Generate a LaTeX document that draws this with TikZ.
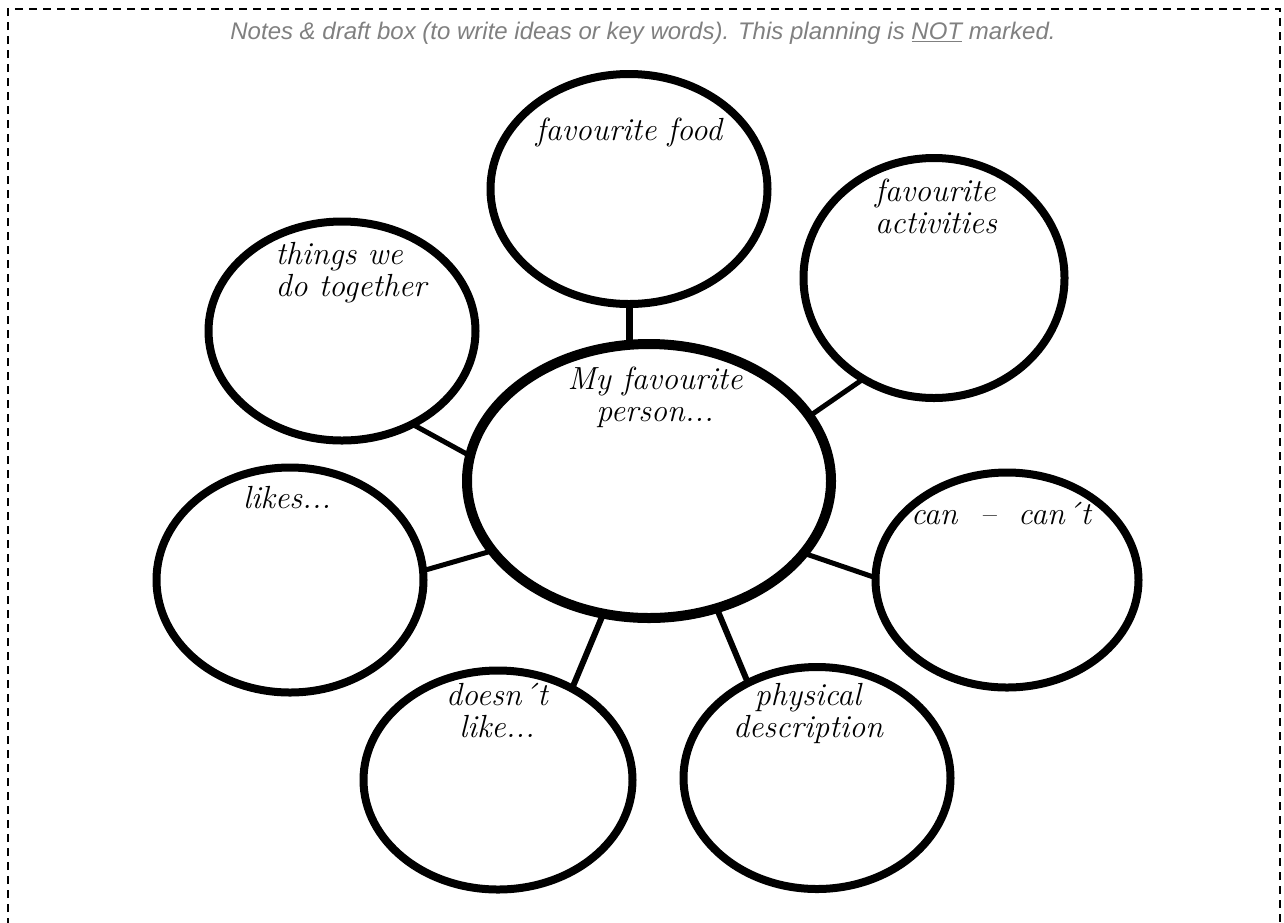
\documentclass[tikz,border=0pt]{standalone}
\usepackage{fontspec}
\newfontfamily\notefont{Liberation Sans}
\usetikzlibrary{shapes.geometric}
\begin{document}
\begin{tikzpicture}[x=1pt,y=-1pt,
  bubble/.style={ellipse, draw=black, fill=white, line width=8pt, inner sep=0pt, outer sep=0pt},
  link/.style={line width=5pt, draw=black},
  hand/.style={font=\fontsize{32}{32}\selectfont\itshape, inner sep=0pt},
  border/.style={line width=2pt, dash pattern=on 8pt off 6pt}]
\useasboundingbox (0,0) rectangle (1284,922);
\coordinate (b1) at (8,940);
\coordinate (b2) at (8,9);
\coordinate (b3) at (1280,9);
\coordinate (b4) at (1280,940);
\draw[border] (b1) -- (b2) -- (b3) -- (b4);
\node[font=\notefont\itshape\fontsize{24}{27}\selectfont, text=black!50, inner sep=0pt] (hdr) at (643,33)
  {Notes \& draft box (to write ideas or key words). This planning is \underline{NOT} marked.};
% bubbles
\node[bubble, line width=10pt, minimum width=364pt, minimum height=274pt] (cen) at (649,481) {};
\node[bubble, minimum width=277pt, minimum height=230pt] (food) at (629,189) {};
\node[bubble, minimum width=261pt, minimum height=240pt] (act) at (934,278) {};
\node[bubble, minimum width=267pt, minimum height=219pt] (tog) at (342,331) {};
\node[bubble, minimum width=267pt, minimum height=225pt] (likes) at (290,580) {};
\node[bubble, minimum width=263pt, minimum height=215pt] (can) at (1007,580) {};
\node[bubble, minimum width=269pt, minimum height=219pt] (doe) at (498,780) {};
\node[bubble, minimum width=267pt, minimum height=222pt] (phys) at (817,778) {};
% connectors
\draw[link, line width=7pt] (food.south) -- (cen.north -| food.south);
\draw[link] (act.235) -- (cen.22);
\draw[link] (tog.-53) -- (cen.172);
\draw[link] (likes.4) -- (cen.204);
\draw[link] (can.179) -- (cen.-25);
\draw[link, line width=6pt] (doe.51) -- (cen.251);
\draw[link, line width=6pt] (phys.126) -- (cen.-62);
% labels
\node[hand] (tfood) at (629,132) {favourite food};
\node[hand, align=left] (tact) at (936,206) {favourite\\activities};
\node[hand, align=left] (ttog) at (351,273) {things we\\do together};
\node[hand, align=center] (tcen) at (655,397) {My favourite\\person...};
\node[hand] (tlikes) at (287,498) {likes...};
\node[hand] (tcan) at (1001,514) {can \ – \ can´t};
\node[hand, align=center] (tdoe) at (497,711) {doesn´t\\like...};
\node[hand, align=center] (tphys) at (808,713) {physical\\description};
\end{tikzpicture}
\end{document}
